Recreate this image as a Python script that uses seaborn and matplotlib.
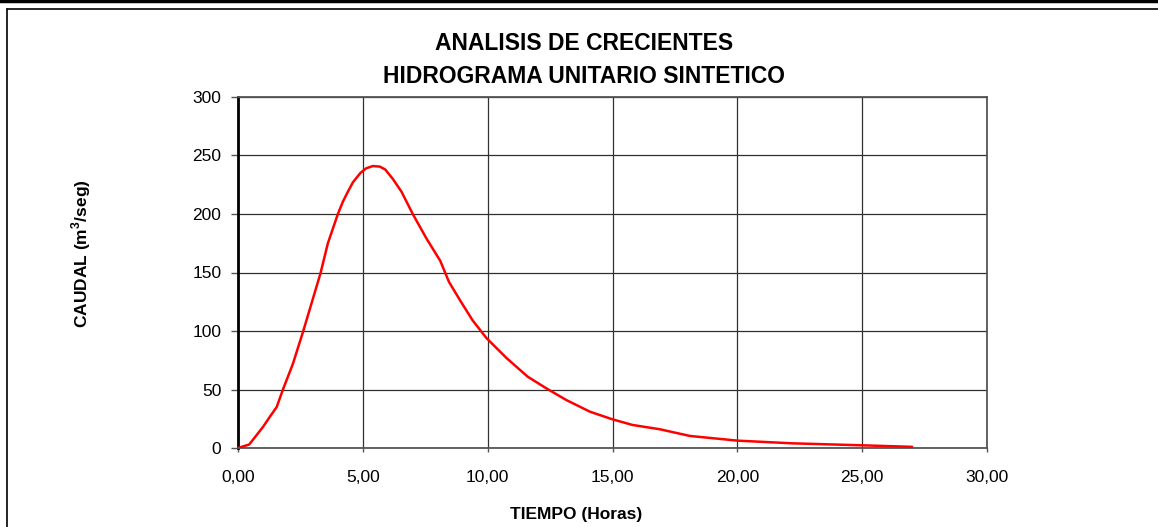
import numpy as np
import pandas as pd
import matplotlib
matplotlib.use("Agg")
import matplotlib.pyplot as plt
from matplotlib.lines import Line2D
from matplotlib.ticker import FuncFormatter, MultipleLocator
import seaborn as sns

# hydrograph points
tiempo = [0.0, 0.45, 1.0, 1.28, 1.55, 1.8, 2.2, 2.6, 2.95, 3.3, 3.6, 4.0, 4.2,
          4.4, 4.6, 4.9, 5.13, 5.4, 5.68, 5.9, 6.2, 6.55, 7.0, 7.55, 8.1, 8.45,
          8.9, 9.4, 9.95, 10.75, 11.6, 12.35, 13.15, 14.1, 15.0, 15.8, 16.9,
          18.1, 20.0, 22.2, 25.0, 27.0]
caudal = [0.0, 3.0, 18.0, 26.8, 35.0, 50.0, 72.0, 99.0, 124.0, 149.0, 175.0,
          200.0, 210.5, 219.0, 227.0, 235.0, 239.0, 241.0, 240.5, 238.0, 230.0,
          219.0, 200.0, 179.0, 160.0, 142.0, 126.0, 109.0, 94.0, 77.0, 61.0,
          51.0, 41.0, 31.0, 24.5, 19.7, 16.0, 10.3, 6.3, 4.0, 2.3, 1.0]

titulo = "ANALISIS DE CRECIENTES\nHIDROGRAMA UNITARIO SINTETICO"
xlabel = "TIEMPO (Horas)"
ylabel = "CAUDAL (m$^3$/seg)"

sns.set_style("white")
plt.rcParams['font.family'] = ['Liberation Sans', 'DejaVu Sans']
plt.rcParams['text.color'] = 'black'
plt.rcParams['xtick.color'] = 'black'
plt.rcParams['ytick.color'] = 'black'
plt.rcParams['mathtext.fontset'] = 'custom'
plt.rcParams['mathtext.rm'] = 'Liberation Sans:bold'
plt.rcParams['mathtext.bf'] = 'Liberation Sans:bold'

df = pd.DataFrame({"t": tiempo, "q": caudal})

W, H = 1158, 527
fig = plt.figure(figsize=(W / 100, H / 100), dpi=100)
ax = fig.add_axes([238 / W, 1 - 448 / H, (987 - 238) / W, (448 - 97) / H])

sns.lineplot(data=df, x="t", y="q", ax=ax, color="#ff0000", linewidth=1.8,
             sort=False, zorder=3)

ax.set_xlim(0, 30)
ax.set_ylim(0, 300)
ax.xaxis.set_major_locator(MultipleLocator(5))
ax.yaxis.set_major_locator(MultipleLocator(50))
ax.xaxis.set_major_formatter(FuncFormatter(lambda v, p: f"{v:.2f}".replace(".", ",")))
ax.grid(True, color="#303030", linewidth=0.9)
ax.set_axisbelow(True)
ax.set_xlabel("")
ax.set_ylabel("")

for side in ["top", "right", "bottom"]:
    ax.spines[side].set_color("#555555")
    ax.spines[side].set_linewidth(1.3)
ax.spines["left"].set_color("black")
ax.spines["left"].set_linewidth(2.0)

ax.tick_params(axis="y", direction="out", length=5, width=1, pad=7,
               labelsize=12.5, color="#555555", labelcolor="black", left=True)
ax.tick_params(axis="x", direction="out", length=3, width=1, pad=13,
               labelsize=12.5, color="#555555", labelcolor="black", bottom=True)

fig.text(584 / W, 1 - 60 / H, titulo, ha="center", va="center", color="black",
         fontsize=16.5, fontweight="bold", linespacing=1.6)
fig.text(576 / W, 1 - 515 / H, xlabel, ha="center", va="center", color="black",
         fontsize=12.5, fontweight="bold")
fig.text(81 / W, 1 - 254 / H, ylabel, ha="center", va="center", color="black",
         fontsize=12.5, fontweight="bold", rotation=90)

# frame lines around the chart area
fig.add_artist(Line2D([0, 1], [1 - 1 / H, 1 - 1 / H], color="black",
                      linewidth=2.5, transform=fig.transFigure))
fig.add_artist(Line2D([7 / W, 1], [1 - 9 / H, 1 - 9 / H], color="black",
                      linewidth=1.2, transform=fig.transFigure))
fig.add_artist(Line2D([7.5 / W, 7.5 / W], [0, 1 - 9 / H], color="black",
                      linewidth=1.2, transform=fig.transFigure))

fig.savefig("out.png", dpi=100)
